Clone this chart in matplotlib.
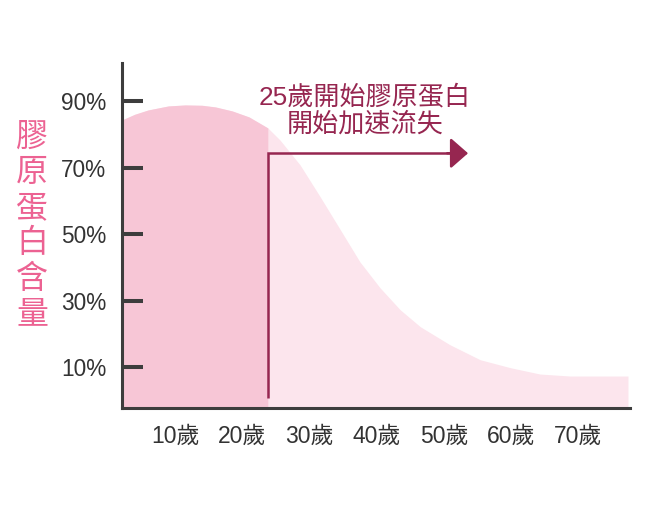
import numpy as np
import matplotlib
matplotlib.use("Agg")
import matplotlib.pyplot as plt

plt.rcParams['font.family'] = ['Liberation Sans', 'Noto Sans CJK TC', 'DejaVu Sans']

# curva del contenuto di collagene (età, percentuale)
eta = [2.1, 4, 6, 9, 11.5, 14, 16, 18.5, 21, 23.8, 25.6, 28.6, 31.6, 34.6, 37.5,
       40.5, 43.5, 46.5, 50.9, 55.4, 59.9, 64.3, 68.8, 77.4]
collagene = [84.3, 86.0, 87.3, 88.5, 88.8, 88.7, 88.2, 87.0, 85.2, 81.9, 78.3, 70.8,
             61.2, 51.3, 41.7, 33.9, 27.3, 22.2, 16.8, 12.3, 9.9, 8.0, 7.4, 7.4]
eta_soglia = 23.8

tick_y = [10, 30, 50, 70, 90]
etichette_y = ["10%", "30%", "50%", "70%", "90%"]
tick_x = [10, 20, 30, 40, 50, 60, 70]
etichette_x = ["10歲", "20歲", "30歲", "40歲", "50歲", "60歲", "70歲"]
titolo_y = "膠原蛋白含量"
nota = ["25歲開始膠原蛋白", "開始加速流失"]

rosa_scuro = "#F7C6D6"
rosa_chiaro = "#FCE5ED"
magenta = "#962650"
rosa_testo = "#EC6292"
grigio = "#3d3d3d"

W, H = 655, 508
fig = plt.figure(figsize=(W / 100, H / 100), dpi=100)
ax = fig.add_axes([122 / W, 1 - 408 / H, 508 / W, 345 / H])

x = np.array(eta)
y = np.array(collagene)
fondo = -2.2
ax.fill_between(x, y, fondo, color=rosa_chiaro, linewidth=0)
m = x <= eta_soglia
ax.fill_between(x[m], y[m], fondo, color=rosa_scuro, linewidth=0)

ax.set_xlim(2.1, 77.7)
ax.set_ylim(fondo, 101.4)

# freccia a L
ax.plot([eta_soglia, eta_soglia, 51.5], [0.8, 74.3, 74.3], color=magenta, lw=1.8,
        solid_joinstyle='miter', solid_capstyle='butt')
ax.annotate("", xy=(53.6, 74.3), xytext=(50.5, 74.3),
            arrowprops=dict(arrowstyle='-|>,head_length=0.4,head_width=0.35',
                            mutation_scale=27, color=magenta, lw=1.8,
                            shrinkA=0, shrinkB=0))

for i, riga in enumerate(nota):
    fig.text(365 / W, 1 - (97 + i * 27) / H, riga, ha='center', va='center',
             fontsize=18.8, color=magenta, weight=500)

for s in ['top', 'right']:
    ax.spines[s].set_visible(False)
for s in ['left', 'bottom']:
    ax.spines[s].set_color(grigio)
    ax.spines[s].set_linewidth(2.2)

ax.set_yticks(tick_y)
ax.set_yticklabels(etichette_y)
ax.set_xticks(tick_x)
ax.set_xticklabels(etichette_x)
ax.tick_params(axis='y', direction='in', length=15, width=2.9, color=grigio,
               labelsize=16.3, labelcolor="#333333", pad=11.5)
ax.tick_params(axis='x', length=0, labelsize=16.5, labelcolor="#333333", pad=12)

# titolo verticale, un carattere per riga
for i, c in enumerate(titolo_y):
    fig.text(32 / W, 1 - (137 + i * 35.4) / H, c, ha='center', va='center',
             fontsize=23, color=rosa_testo, family=['Noto Sans CJK TC'], weight=500)

fig.savefig("out.png", dpi=100)
